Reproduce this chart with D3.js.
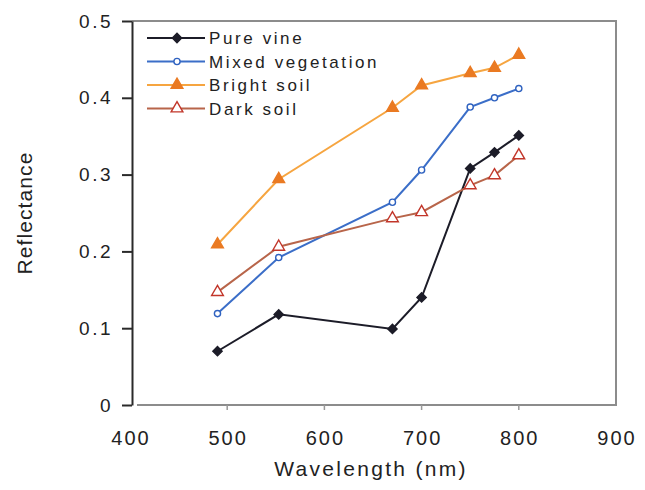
<!DOCTYPE html>
<html>
<head>
<meta charset="utf-8">
<script src="https://cdn.jsdelivr.net/npm/d3@7"></script>
<style>
  body { margin: 0; background: #fff; }
  text { font-family: "Liberation Sans", Arial, sans-serif; fill: #222; }
</style>
</head>
<body>
<script>
// data
var wavelengths = [490, 553, 670, 700, 750, 775, 800];
var pureVine = [0.070, 0.118, 0.099, 0.140, 0.308, 0.329, 0.351];
var mixedVegetation = [0.119, 0.192, 0.264, 0.306, 0.388, 0.400, 0.412];
var brightSoil = [0.209, 0.294, 0.387, 0.416, 0.432, 0.439, 0.456];
var darkSoil = [0.147, 0.206, 0.243, 0.251, 0.286, 0.299, 0.325];
var seriesNames = ["Pure vine", "Mixed vegetation", "Bright soil", "Dark soil"];
var xTicks = [400, 500, 600, 700, 800, 900];
var yTicks = [0, 0.1, 0.2, 0.3, 0.4, 0.5];

var series = [
  { name: seriesNames[0], values: pureVine, line: "#1c1c28", marker: "diamond", stroke: "#1c1c28", fill: "#1c1c28" },
  { name: seriesNames[1], values: mixedVegetation, line: "#3b6ec8", marker: "circle", stroke: "#2f62c0", fill: "#fff" },
  { name: seriesNames[2], values: brightSoil, line: "#f6a540", marker: "triangle", stroke: "#ea7a22", fill: "#ea7a22" },
  { name: seriesNames[3], values: darkSoil, line: "#b8654a", marker: "triangle", stroke: "#c2362a", fill: "#fff" }
];

var svg = d3.select("body").append("svg")
  .attr("width", 645)
  .attr("height", 490);

var x = d3.scaleLinear().domain([400, 900]).range([130, 616]);
var y = d3.scaleLinear().domain([0, 0.5]).range([405, 21]);

// plot frame (top, right, bottom in grey)
svg.append("path")
  .attr("d", "M" + 132 + "," + y(0.5) + "H" + x(900) + "V" + y(0) + "H" + 137)
  .attr("fill", "none")
  .attr("stroke", "#8c8c8c")
  .attr("stroke-width", 2);

// x ticks
svg.selectAll(".xtick")
  .data(xTicks.slice(1, -1))
  .enter()
  .append("line")
  .attr("x1", function (d) { return x(d); })
  .attr("x2", function (d) { return x(d); })
  .attr("y1", y(0))
  .attr("y2", y(0) + 5)
  .attr("stroke", "#999")
  .attr("stroke-width", 1.5);

svg.selectAll(".xlab")
  .data(xTicks)
  .enter()
  .append("text")
  .attr("x", function (d) { return x(d) + 1; })
  .attr("y", 445)
  .attr("text-anchor", "middle")
  .attr("font-size", 20)
  .attr("letter-spacing", 2)
  .text(function (d) { return d; });

// y axis (dark)
var yAxis = d3.axisLeft(y).tickValues(yTicks).tickSize(10).tickSizeOuter(0)
  .tickFormat(function (d) { return d === 0 ? "0" : d3.format(".1f")(d); });
var gy = svg.append("g").attr("transform", "translate(132,0)").call(yAxis);
gy.select(".domain").attr("stroke", "#2a2a2a").attr("stroke-width", 2);
gy.selectAll(".tick line").attr("stroke", "#2a2a2a").attr("stroke-width", 2);
gy.selectAll(".tick text")
  .attr("font-size", 19)
  .attr("font-family", "Liberation Sans, Arial, sans-serif")
  .attr("letter-spacing", 2.5)
  .attr("fill", "#222")
  .attr("x", -19);

// axis titles
svg.append("text")
  .attr("x", 371)
  .attr("y", 476)
  .attr("text-anchor", "middle")
  .attr("font-size", 21)
  .attr("letter-spacing", 2.3)
  .text("Wavelength (nm)");

svg.append("text")
  .attr("transform", "translate(32,213) rotate(-90)")
  .attr("text-anchor", "middle")
  .attr("font-size", 21)
  .attr("letter-spacing", 1.1)
  .text("Reflectance");

// lines and markers
var line = d3.line()
  .x(function (d, i) { return x(wavelengths[i]); })
  .y(function (d) { return y(d); });

function markerPath(type) {
  if (type === "diamond") return d3.symbol().type(d3.symbolDiamond2).size(55)();
  if (type === "circle") return d3.symbol().type(d3.symbolCircle).size(30)();
  return d3.symbol().type(d3.symbolTriangle).size(60)();
}

series.forEach(function (s) {
  svg.append("path")
    .datum(s.values)
    .attr("d", line)
    .attr("fill", "none")
    .attr("stroke", s.line)
    .attr("stroke-width", 2);

  svg.selectAll(null)
    .data(s.values)
    .enter()
    .append("path")
    .attr("d", markerPath(s.marker))
    .attr("transform", function (d, i) { return "translate(" + x(wavelengths[i]) + "," + y(d) + ")"; })
    .attr("fill", s.fill)
    .attr("stroke", s.stroke)
    .attr("stroke-width", 1.4);
});

// legend
var legend = svg.selectAll(".legend")
  .data(series)
  .enter()
  .append("g")
  .attr("transform", function (d, i) { return "translate(147," + (38 + i * 23.5) + ")"; });

legend.append("line")
  .attr("x1", 0).attr("x2", 58)
  .attr("stroke", function (d) { return d.line; })
  .attr("stroke-width", 2);

legend.append("path")
  .attr("d", function (d) { return markerPath(d.marker); })
  .attr("transform", "translate(30,0)")
  .attr("fill", function (d) { return d.fill; })
  .attr("stroke", function (d) { return d.stroke; })
  .attr("stroke-width", 1.4);

legend.append("text")
  .attr("x", 62)
  .attr("y", 6)
  .attr("font-size", 17)
  .attr("letter-spacing", 2.6)
  .text(function (d) { return d.name; });
</script>
</body>
</html>
